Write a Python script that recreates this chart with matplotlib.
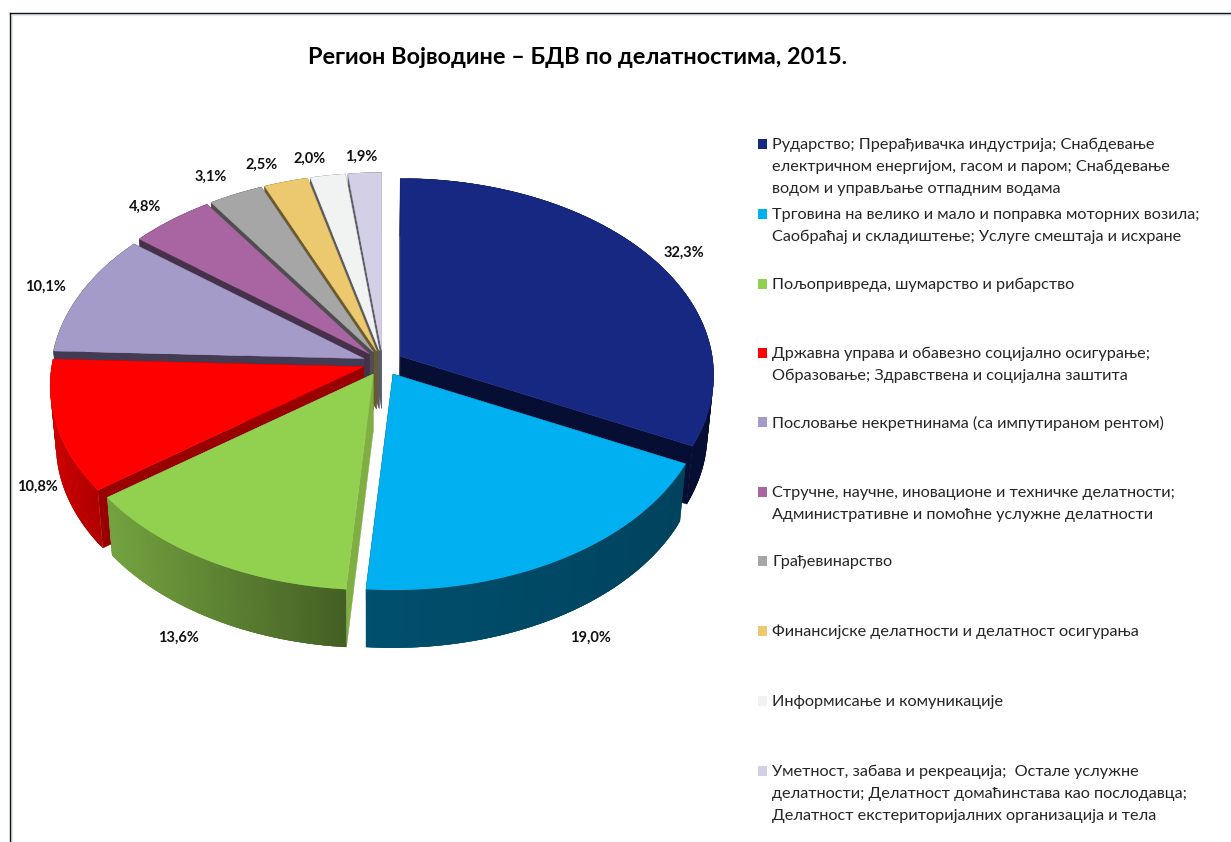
import matplotlib
matplotlib.use('Agg')
import matplotlib.pyplot as plt
from matplotlib.patches import Polygon
import numpy as np

plt.rcParams['font.family'] = ['Lato', 'Noto Sans', 'DejaVu Sans']

title = 'Регион Војводине – БДВ по делатностима, 2015.'

values = [32.3, 19.0, 13.6, 10.8, 10.1, 4.8, 3.1, 2.5, 2.0, 1.9]
pct_labels = ['32,3%', '19,0%', '13,6%', '10,8%', '10,1%', '4,8%', '3,1%', '2,5%', '2,0%', '1,9%']
legend_labels = [
    ['Рударство; Прерађивачка индустрија; Снабдевање',
     'електричном енергијом, гасом и паром; Снабдевање',
     'водом и управљање отпадним водама'],
    ['Трговина на велико и мало и поправка моторних возила;',
     'Саобраћај и складиштење; Услуге смештаја и исхране'],
    ['Пољопривреда, шумарство и рибарство'],
    ['Државна управа и обавезно социјално осигурање;',
     'Образовање; Здравствена и социјална заштита'],
    ['Пословање некретнинама (са импутираном рентом)'],
    ['Стручне, научне, иновационе и техничке делатности;',
     'Административне и помоћне услужне делатности'],
    ['Грађевинарство'],
    ['Финансијске делатности и делатност осигурања'],
    ['Информисање и комуникације'],
    ['Уметност, забава и рекреација;  Остале услужне',
     'делатности; Делатност домаћинстава као послодавца;',
     'Делатност екстериторијалних организација и тела'],
]

# boje: vrh, bocna strana levo/desno, rez
top_colors = ['#172883', '#00b0f0', '#92d050', '#ff0000', '#a59bc8',
              '#a965a1', '#a6a6a6', '#ecc86e', '#f1f3f3', '#d3cfe6']
wall_left = ['#060e33', '#00506e', '#74a340', '#cc0000', '#433b54',
             '#47304a', '#4e4e4e', '#6b5a2f', '#5b5b5b', '#5f5f68']
wall_right = ['#060e33', '#00435e', '#446024', '#b00000', '#433b54',
              '#47304a', '#4e4e4e', '#6b5a2f', '#5b5b5b', '#5f5f68']
cut_colors = ['#060e33', '#00435e', '#7fae42', '#990000', '#433b54',
              '#47304a', '#4e4e4e', '#6b5a2f', '#5b5b5b', '#5f5f68']

legend_y = [144, 214, 284, 353, 422, 492, 561, 631, 701, 771]
label_pos = [(684, 253), (590, 638), (178, 638), (37, 487), (45, 287),
             (145, 207), (211, 177), (262, 165), (310, 159), (361, 157)]

# parametri projekcije (u pikselima)
cx, cy = 383, 363
rx, ry = 312, 195
persp = 0.0965
explode = 0.065
depth = 58
vanish_x = 370
bottom_scale = 0.982


def project(X, Y, ax0, ay0):
    f = 1 / (1 - persp * Y)
    return ax0 + rx * X * f, ay0 + ry * Y * f


def drop(x, y):
    return vanish_x + (np.asarray(x) - vanish_x) * bottom_scale, np.asarray(y) + depth


fig = plt.figure(figsize=(12.31, 8.42), dpi=100)
ax = fig.add_axes([0, 0, 1, 1])
ax.set_xlim(0, 1231)
ax.set_ylim(842, 0)
ax.axis('off')

total = sum(values)
ends = np.cumsum(values) / total * 2 * np.pi
starts = ends - np.array(values) / total * 2 * np.pi
mids = (starts + ends) / 2

slices = []
for i in range(len(values)):
    ax0 = cx + rx * explode * np.sin(mids[i])
    ay0 = cy - ry * explode * np.cos(mids[i])
    slices.append((ay0, i, ax0))

# od pozadi ka napred
for ay0, i, ax0 in sorted(slices):
    t = np.linspace(starts[i], ends[i], 80)
    ox, oy = project(np.sin(t), -np.cos(t), ax0, ay0)
    bx, by = drop(ox, oy)
    ax_b, ay_b = drop(ax0, ay0)

    # rezovi
    for k in (0, -1):
        ax.add_patch(Polygon([(ax0, ay0), (ox[k], oy[k]), (bx[k], by[k]), (ax_b, ay_b)],
                             closed=True, fc=cut_colors[i], ec=cut_colors[i], lw=0.3))

    # spoljni zid sa prelazom boje, delovi se preklapaju da ne bi bilo pruga
    c0 = np.array(matplotlib.colors.to_rgb(wall_left[i]))
    c1 = np.array(matplotlib.colors.to_rgb(wall_right[i]))
    xmin, xmax = ox.min(), ox.max()
    for j in range(len(t) - 1):
        s = (ox[j] - xmin) / max(xmax - xmin, 1)
        col = c0 + (c1 - c0) * s
        j2 = min(j + 3, len(t) - 1)
        ax.add_patch(Polygon([(ox[j], oy[j]), (ox[j + 1], oy[j + 1]), (ox[j2], oy[j2]),
                              (bx[j2], by[j2]), (bx[j + 1], by[j + 1]), (bx[j], by[j])],
                             closed=True, fc=col, ec='none'))

    # gornja strana
    pts = [(ax0, ay0)] + list(zip(ox, oy))
    ax.add_patch(Polygon(pts, closed=True, fc=top_colors[i], ec=top_colors[i], lw=0.3))

for (x, y), s in zip(label_pos, pct_labels):
    ax.text(x, y, s, ha='center', va='center', fontsize=10.5, fontweight='bold', color='#111111')

# legenda
for i, lines in enumerate(legend_labels):
    ax.add_patch(Polygon([(758, legend_y[i] - 5), (767, legend_y[i] - 5),
                          (767, legend_y[i] + 4.5), (758, legend_y[i] + 4.5)],
                         closed=True, fc=top_colors[i], ec='none'))
    for n, line in enumerate(lines):
        ax.text(772, legend_y[i] + 1 + n * 22, line, ha='left', va='center',
                fontsize=11.7, color='#262626')

ax.text(578, 57, title, ha='center', va='center', fontsize=16.9, fontweight='bold', color='black')

# okvir sa svetlom senkom
ax.plot([12, 12], [842, 15], color='#e3e8ed', lw=1.6)
ax.plot([12, 1231], [15, 15], color='#e3e8ed', lw=1.6)
ax.plot([10, 10], [842, 13], color='#111111', lw=1)
ax.plot([10, 1231], [13, 13], color='#111111', lw=1)

fig.savefig('out.png', dpi=100)
